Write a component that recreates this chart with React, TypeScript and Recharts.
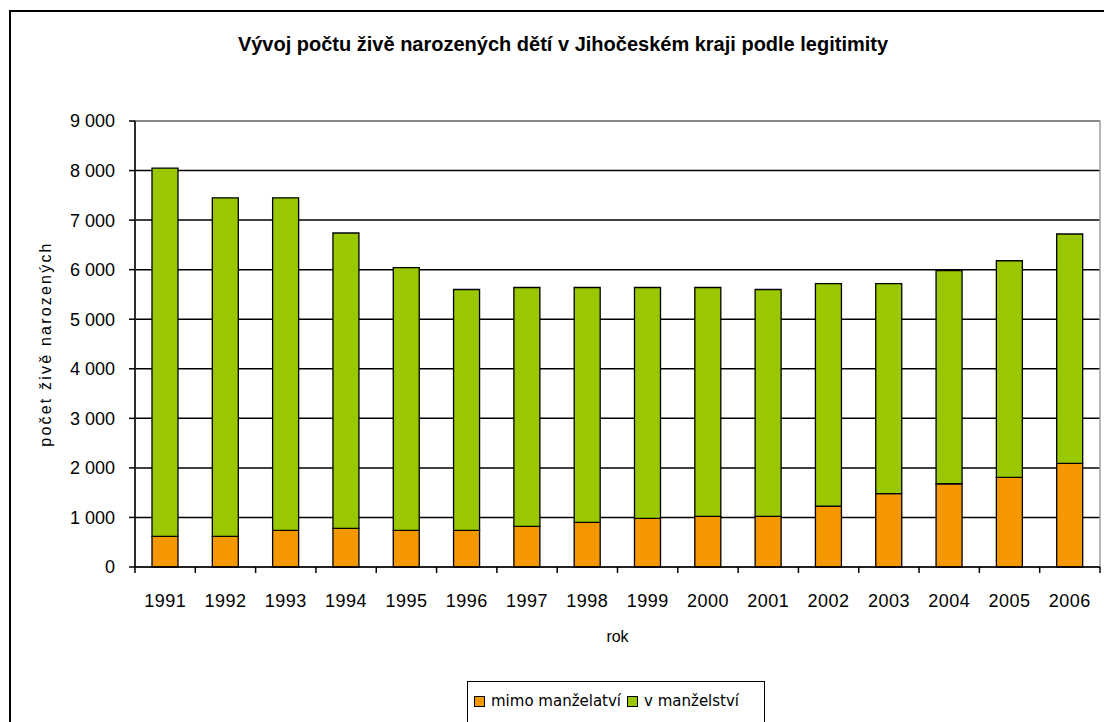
import { BarChart, Bar, XAxis, YAxis, CartesianGrid, ReferenceArea } from 'recharts';

const years = ['1991', '1992', '1993', '1994', '1995', '1996', '1997', '1998', '1999', '2000', '2001', '2002', '2003', '2004', '2005', '2006'];
const mimoManzelstvi = [620, 620, 740, 780, 740, 740, 820, 900, 980, 1020, 1020, 1230, 1480, 1680, 1810, 2090];
const vManzelstvi = [7430, 6830, 6710, 5960, 5300, 4860, 4820, 4740, 4660, 4620, 4580, 4490, 4240, 4300, 4370, 4630];
const yTicks = [0, 1000, 2000, 3000, 4000, 5000, 6000, 7000, 8000, 9000];

const ORANGE = '#F59800';
const GREEN = '#99C800';
const FONT = '"Liberation Sans", Arial, sans-serif';

const data = years.map((rok, i) => ({
  rok,
  mimo: mimoManzelstvi[i],
  v: vManzelstvi[i],
}));

const fmt = (v: number) => String(v).replace(/\B(?=(\d{3})+(?!\d))/g, ' ');

// tick marks sit between categories, labels in the middle
function YearTick(props: any) {
  const { x, y, payload, index, width, visibleTicksCount } = props;
  const band = width / visibleTicksCount;
  return (
    <g>
      <line x1={x - band / 2} x2={x - band / 2} y1={y} y2={y + 6} stroke="#000" strokeWidth={1.5} />
      {index === visibleTicksCount - 1 && (
        <line x1={x + band / 2} x2={x + band / 2} y1={y} y2={y + 6} stroke="#000" strokeWidth={1.5} />
      )}
      <text x={x} y={y + 40} textAnchor="middle" fontFamily={FONT} fontSize={18} letterSpacing={0.5} fill="#000">
        {payload.value}
      </text>
    </g>
  );
}

export default function App() {
  return (
    <div style={{ position: 'absolute', left: 0, top: 0, width: 1104, height: 722, overflow: 'hidden', background: '#fff' }}>
      <div style={{ position: 'absolute', left: 9, top: 10, width: 1110, height: 730, border: '2px solid #000' }} />
      <div
        style={{
          position: 'absolute', left: 0, top: 33, width: 1126, textAlign: 'center',
          fontFamily: FONT, fontWeight: 'bold', fontSize: 20, color: '#000',
        }}
      >
        Vývoj počtu živě narozených dětí v Jihočeském kraji podle legitimity
      </div>

      <div style={{ position: 'absolute', left: 0, top: 0 }}>
        <BarChart width={1104} height={722} data={data} margin={{ top: 121, right: 4, bottom: 115, left: 0 }}>
          <CartesianGrid vertical={false} stroke="#000" strokeWidth={1.5} />
          <ReferenceArea y1={0} y2={9000} fill="none" stroke="#a0a0a0" strokeWidth={1.5} ifOverflow="extendDomain" />
          <Bar dataKey="mimo" stackId="a" fill={ORANGE} stroke="#000" strokeWidth={1.3} barSize={26} isAnimationActive={false} />
          <Bar dataKey="v" stackId="a" fill={GREEN} stroke="#000" strokeWidth={1.3} barSize={26} isAnimationActive={false} />
          <XAxis
            dataKey="rok"
            height={40}
            axisLine={{ stroke: '#000', strokeWidth: 1.5 }}
            tickLine={false}
            tickSize={0}
            tickMargin={0}
            interval={0}
            tick={<YearTick />}
            label={{ value: 'rok', position: 'bottom', offset: 24, fontFamily: FONT, fontSize: 16, fill: '#000' }}
          />
          <YAxis
            width={135}
            domain={[0, 9000]}
            ticks={yTicks}
            interval={0}
            tickFormatter={fmt}
            axisLine={{ stroke: '#000', strokeWidth: 1.5 }}
            tickLine={{ stroke: '#000', strokeWidth: 1.5 }}
            tickSize={6}
            tickMargin={14}
            tick={{ fontFamily: FONT, fontSize: 18, fill: '#000' }}
            label={{
              value: 'počet živě narozených', angle: -90, position: 'center', dx: -22,
              fontFamily: FONT, fontSize: 16, letterSpacing: 2.2, fill: '#000',
            }}
          />
        </BarChart>
      </div>

      <div
        style={{
          position: 'absolute', left: 467, top: 681, width: 296, height: 50,
          border: '1.5px solid #000', fontFamily: '"DejaVu Sans", sans-serif', fontSize: 15, color: '#000',
        }}
      >
        <div style={{ display: 'flex', alignItems: 'center', marginTop: 10, marginLeft: 6 }}>
          <span style={{ width: 9, height: 9, background: ORANGE, border: '1px solid #000', marginRight: 6 }} />
          <span style={{ marginRight: 6 }}>mimo manželatví</span>
          <span style={{ width: 9, height: 9, background: GREEN, border: '1px solid #000', marginRight: 6 }} />
          <span>v manželství</span>
        </div>
      </div>
    </div>
  );
}
